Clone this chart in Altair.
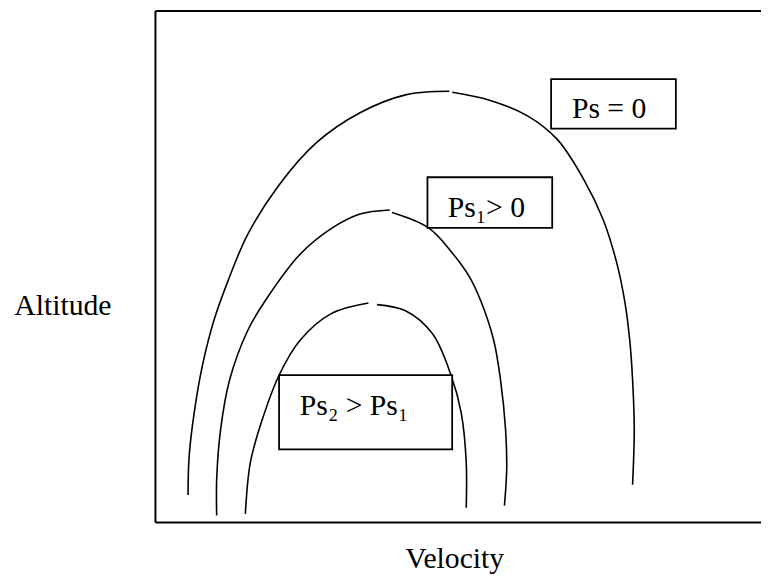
import altair as alt
import pandas as pd

# ---- curve data (velocity, altitude) in arbitrary units ----
# outer curve: Ps = 0
ps0_left_v = [5.8, 6.0, 6.9, 8.3, 10.4, 12.9, 16.4, 22.0, 28.7, 36.4, 44.5, 52.3]
ps0_left_a = [5.4, 13.0, 21.5, 30.4, 39.5, 47.2, 56.3, 66.0, 74.3, 80.1, 83.6, 84.3]
ps0_right_v = [52.8, 59.3, 66.2, 71.5, 76.2, 79.6, 82.0, 83.5, 84.4, 84.9, 85.2, 84.9]
ps0_right_a = [84.1, 82.6, 79.5, 74.9, 67.1, 59.4, 51.1, 43.3, 35.6, 27.9, 18.2, 7.4]
# middle curve: Ps1 > 0
ps1_left_v = [10.9, 10.9, 11.6, 13.2, 16.4, 19.5, 25.7, 31.2, 36.4, 41.7]
ps1_left_a = [1.4, 8.5, 18.2, 27.9, 37.5, 43.3, 52.4, 57.4, 60.3, 61.1]
ps1_right_v = [42.1, 48.6, 52.6, 56.0, 57.9, 60.2, 61.4, 62.3, 62.5, 62.1]
ps1_right_a = [60.6, 57.6, 53.0, 47.8, 43.3, 35.6, 27.9, 18.2, 10.4, 3.3]
# inner curve: Ps2 > Ps1
ps2_left_v = [16.0, 16.9, 19.0, 22.0, 25.7, 31.2, 37.9]
ps2_left_a = [1.7, 11.8, 20.1, 28.8, 35.6, 40.8, 42.9]
ps2_right_v = [39.4, 44.5, 49.3, 52.6, 54.4, 55.3, 55.3]
ps2_right_a = [42.6, 41.4, 36.9, 28.8, 21.5, 11.8, 2.9]

# ---- label boxes ----
box_labels = ["Ps = 0", "Ps\u2081> 0", "Ps\u2082 > Ps\u2081"]
box_v1 = [70.4, 48.4, 22.0]
box_v2 = [92.6, 70.6, 52.8]
box_a1 = [77.0, 57.6, 14.3]
box_a2 = [86.7, 67.5, 28.8]
text_v = [74.1, 52.0, 25.7]
text_a = [79.0, 59.8, 21.1]

# ---- plot frame (open on the right, where the picture is cut) ----
V_MAX = 107.75
frame_v1 = [0, 0, 0]
frame_v2 = [0, V_MAX, V_MAX]
frame_a1 = [0, 100, 0]
frame_a2 = [100, 100, 0]

rows = []
pieces = [
    ("ps0", "L", ps0_left_v, ps0_left_a), ("ps0", "R", ps0_right_v, ps0_right_a),
    ("ps1", "L", ps1_left_v, ps1_left_a), ("ps1", "R", ps1_right_v, ps1_right_a),
    ("ps2", "L", ps2_left_v, ps2_left_a), ("ps2", "R", ps2_right_v, ps2_right_a),
]
for curve, side, vs, as_ in pieces:
    for i, (v, a) in enumerate(zip(vs, as_)):
        rows.append({"piece": curve + side, "i": i, "v": v, "a": a})
curves = pd.DataFrame(rows)

boxes = pd.DataFrame({
    "label": box_labels, "v1": box_v1, "v2": box_v2, "a1": box_a1, "a2": box_a2,
    "tv": text_v, "ta": text_a,
})
frame = pd.DataFrame({"v1": frame_v1, "v2": frame_v2, "a1": frame_a1, "a2": frame_a2})

FONT = "Liberation Serif"
xs = alt.Scale(domain=[0, V_MAX], nice=False, zero=False)
ys = alt.Scale(domain=[0, 100], nice=False, zero=False)

x_axis = alt.Axis(title="Velocity", domain=False, ticks=False, labels=False, grid=False,
                  titleFont=FONT, titleFontSize=30, titleFontWeight="normal", titleColor="black",
                  titleX=302, titleY=45, titleAlign="center", titleBaseline="alphabetic")
y_axis = alt.Axis(title="Altitude", domain=False, ticks=False, labels=False, grid=False,
                  titleFont=FONT, titleFontSize=30, titleFontWeight="normal", titleColor="black",
                  titleAngle=0, titleX=-94, titleY=307, titleAlign="center", titleBaseline="alphabetic")

lines = alt.Chart(curves).mark_line(color="black", strokeWidth=1.6, interpolate="catmull-rom").encode(
    x=alt.X("v:Q", scale=xs, axis=x_axis),
    y=alt.Y("a:Q", scale=ys, axis=y_axis),
    detail="piece:N",
    order="i:Q",
)

frame_lines = alt.Chart(frame).mark_rule(color="black", strokeWidth=2).encode(
    x=alt.X("v1:Q", scale=xs), x2="v2:Q",
    y=alt.Y("a1:Q", scale=ys), y2="a2:Q",
)

rects = alt.Chart(boxes).mark_rect(fill="white", stroke="black", strokeWidth=1.8).encode(
    x=alt.X("v1:Q", scale=xs), x2="v2:Q",
    y=alt.Y("a1:Q", scale=ys), y2="a2:Q",
)

texts = alt.Chart(boxes).mark_text(font=FONT, fontSize=30, color="black", align="left",
                                    baseline="alphabetic").encode(
    x=alt.X("tv:Q", scale=xs), y=alt.Y("ta:Q", scale=ys), text="label:N",
)

chart = alt.layer(lines, frame_lines, rects, texts).properties(
    width=612, height=517,
    autosize=alt.AutoSizeParams(type="none"),
    padding={"left": 149, "top": 0, "right": 0, "bottom": 52},
).configure(background="white").configure_view(strokeWidth=0, stroke=None)

chart.save("out.html", embed_options={"renderer": "svg", "actions": False})
